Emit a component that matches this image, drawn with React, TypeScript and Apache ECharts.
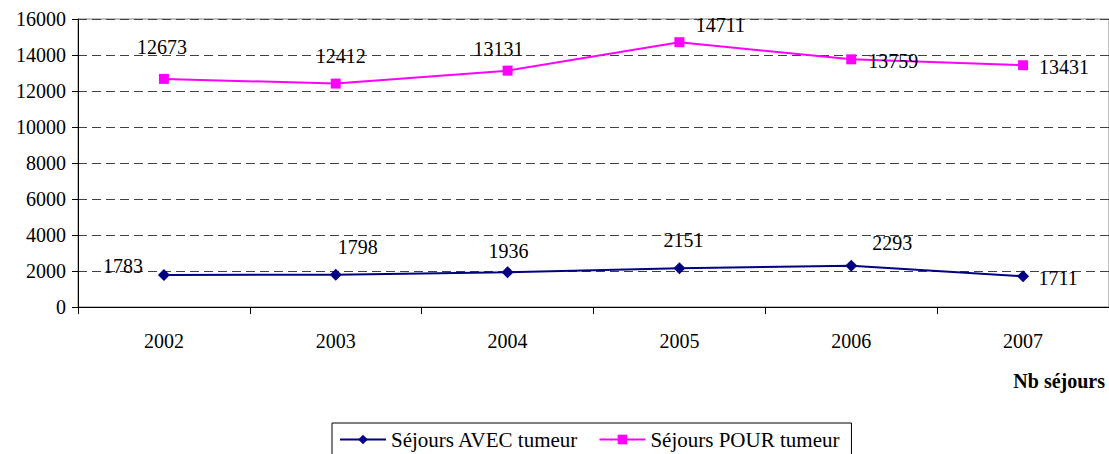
import React, { useEffect, useRef } from "react";
import * as echarts from "echarts";

const years = ["2002", "2003", "2004", "2005", "2006", "2007"];
const avecTumeur = [1783, 1798, 1936, 2151, 2293, 1711];
const pourTumeur = [12673, 12412, 13131, 14711, 13759, 13431];
const yTicks = { min: 0, max: 16000, interval: 2000 };

// label offsets (pixels) relative to each point, style only
const avecLabelOffsets = [[-41, -9], [22, -28], [1, -21], [4, -28], [41, -23], [35, 2]];
const pourLabelOffsets = [[-2, -32], [5, -28], [-9, -22], [41, -17], [42, 2], [41, 2]];

const FONT = "Liberation Serif, Times New Roman, serif";

export default function App() {
  const ref = useRef<HTMLDivElement>(null);
  useEffect(() => {
    if (!ref.current) return;
    const chart = echarts.init(ref.current, null, { renderer: "svg" });
    const mkData = (vals: number[], offs: number[][]) =>
      vals.map((v, i) => ({
        value: v,
        label: { show: true, position: "inside", offset: offs[i] },
      }));
    chart.setOption({
      animation: false,
      textStyle: { fontFamily: FONT, color: "#000" },
      grid: {
        left: 78,
        top: 19,
        bottom: 147,
        right: -6,
        show: true,
        borderColor: "#808080",
        borderWidth: 1,
        backgroundColor: "transparent",
      },
      xAxis: {
        type: "category",
        data: years,
        boundaryGap: true,
        axisLine: { lineStyle: { color: "#000", width: 1 } },
        axisTick: { show: true, length: 7, inside: false, alignWithLabel: false, lineStyle: { color: "#000" } },
        axisLabel: { color: "#000", fontSize: 20, fontFamily: FONT, margin: 24 },
        splitLine: { show: false },
      },
      yAxis: {
        type: "value",
        min: yTicks.min,
        max: yTicks.max,
        interval: yTicks.interval,
        axisLine: { show: true, lineStyle: { color: "#000", width: 1 } },
        axisTick: { show: true, length: 6, lineStyle: { color: "#000" } },
        axisLabel: {
          color: "#000",
          fontSize: 20,
          fontFamily: FONT,
          margin: 12,
          formatter: (v: number) => String(v),
        },
        splitLine: { show: true, lineStyle: { color: "#404040", type: [9, 5], width: 1 } },
      },
      legend: {
        left: 332,
        top: 423,
        orient: "horizontal",
        itemWidth: 46,
        itemHeight: 12,
        itemGap: 20,
        borderColor: "#000",
        borderWidth: 1,
        padding: [6, 12, 12, 7],
        textStyle: { fontSize: 21, fontFamily: FONT, color: "#000" },
        data: ["Séjours AVEC tumeur", "Séjours POUR tumeur"],
      },
      graphic: [
        {
          type: "text",
          right: 4,
          top: 371,
          style: { text: "Nb séjours", font: `bold 20px ${FONT}`, fill: "#000" },
        },
      ],
      series: [
        {
          name: "Séjours AVEC tumeur",
          type: "line",
          data: mkData(avecTumeur, avecLabelOffsets),
          symbol: "diamond",
          symbolSize: 12,
          itemStyle: { color: "#000080" },
          lineStyle: { color: "#000080", width: 2 },
          label: { color: "#000", fontSize: 20, fontFamily: FONT },
        },
        {
          name: "Séjours POUR tumeur",
          type: "line",
          data: mkData(pourTumeur, pourLabelOffsets),
          symbol: "rect",
          symbolSize: 10,
          itemStyle: { color: "#FF00FF" },
          lineStyle: { color: "#FF00FF", width: 2 },
          label: { color: "#000", fontSize: 20, fontFamily: FONT },
        },
      ],
    });
    return () => chart.dispose();
  }, []);
  return (
    <div
      ref={ref}
      style={{ position: "fixed", left: 0, top: 0, width: 1109, height: 454, background: "#fff" }}
    />
  );
}
